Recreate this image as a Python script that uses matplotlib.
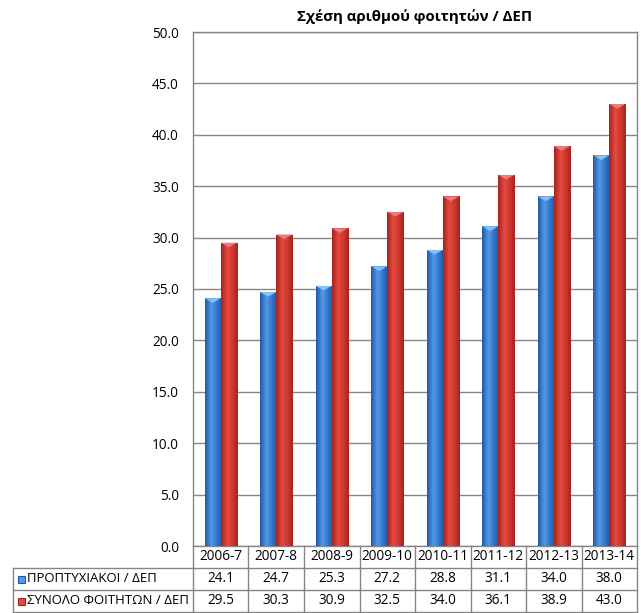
import numpy as np
import matplotlib
matplotlib.use("Agg")
import matplotlib.pyplot as plt
import matplotlib.transforms as mtransforms
from matplotlib.colors import LinearSegmentedColormap
from matplotlib.patches import Polygon, Rectangle

# ---------------------------------------------------------------------------
# Data
# ---------------------------------------------------------------------------
TITLE = "Σχέση αριθμού φοιτητών / ΔΕΠ"
years = ["2006-7", "2007-8", "2008-9", "2009-10",
         "2010-11", "2011-12", "2012-13", "2013-14"]
undergrad = [24.1, 24.7, 25.3, 27.2, 28.8, 31.1, 34.0, 38.0]
total = [29.5, 30.3, 30.9, 32.5, 34.0, 36.1, 38.9, 43.0]
series_names = ["ΠΡΟΠΤΥΧΙΑΚΟΙ / ΔΕΠ", "ΣΥΝΟΛΟ ΦΟΙΤΗΤΩΝ / ΔΕΠ"]
yticks = np.arange(0, 50.1, 5)

plt.rcParams["font.family"] = ["Open Sans", "DejaVu Sans"]

GRID = "#868686"
BLUE = ["#1f5aa8", "#5399e8", "#2f72c6"]   # dark, light, mid
RED = ["#a5241e", "#e54a40", "#c8342c"]
BEVEL = {"blue": "#86c2f5", "red": "#f27a72"}
FS = 9.8

fig = plt.figure(figsize=(6.41, 6.13), dpi=100)
ax = fig.add_axes([193 / 641, 67 / 613, 444 / 641, 514 / 613])

x = np.arange(len(years))
w = 0.29


def shaded_bars(xpos, values, cols, bevel):
    cmap = LinearSegmentedColormap.from_list(
        "g", [(0, cols[0]), (0.38, cols[1]), (0.75, cols[2]), (1, cols[0])])
    grad = np.linspace(0, 1, 64).reshape(1, -1)
    bars = ax.bar(xpos, values, w, color=cols[2], edgecolor="none", zorder=2)
    for b in bars:
        x0, h, bw = b.get_x(), b.get_height(), b.get_width()
        im = ax.imshow(grad, cmap=cmap, aspect="auto",
                       extent=[x0, x0 + bw, 0, h], zorder=3)
        im.set_clip_path(b)
        d = 0.45
        ax.add_patch(Polygon([[x0, h], [x0 + bw, h], [x0 + bw / 2, h - d]],
                             closed=True, color=bevel, zorder=4, lw=0))
    return bars


shaded_bars(x - w / 2, undergrad, BLUE, BEVEL["blue"])
shaded_bars(x + w / 2, total, RED, BEVEL["red"])

ax.set_xlim(-0.5, len(years) - 0.5)
ax.set_ylim(0, 50)
ax.set_yticks(yticks)
ax.set_yticklabels([f"{v:.1f}" for v in yticks], fontsize=FS)
ax.tick_params(axis="y", length=0, pad=10)
ax.set_xticks([])
ax.yaxis.grid(True, color=GRID, linewidth=1)
ax.set_axisbelow(True)
for s in ax.spines.values():
    s.set_color(GRID)
    s.set_linewidth(1)

ax.set_title(TITLE, fontsize=10.8, fontweight="bold", pad=8)

# ---------------------------------------------------------------------------
# Data table under the plot
# ---------------------------------------------------------------------------
rh = 22 / 514
left = -180 / 444
trans = mtransforms.blended_transform_factory(ax.transData, ax.transAxes)
lkw = dict(color=GRID, linewidth=1, clip_on=False)

for i in range(len(years) + 1):
    ax.plot([i - 0.5, i - 0.5], [0, -3 * rh], transform=trans, **lkw)
ax.plot([left, left], [-rh, -3 * rh], transform=ax.transAxes, **lkw)
for k in (1, 2, 3):
    ax.plot([left, 1], [-k * rh, -k * rh], transform=ax.transAxes, **lkw)

for i, yr in enumerate(years):
    ax.text(i, -0.5 * rh, yr, transform=trans, ha="center", va="center",
            fontsize=FS)
    ax.text(i, -1.5 * rh, f"{undergrad[i]:.1f}", transform=trans,
            ha="center", va="center", fontsize=FS)
    ax.text(i, -2.5 * rh, f"{total[i]:.1f}", transform=trans,
            ha="center", va="center", fontsize=FS)

for k, (name, col) in enumerate(zip(series_names, [BLUE, RED])):
    yc = -(k + 1.5) * rh
    kw, kh = 7 / 444, 7 / 514
    ax.add_patch(Rectangle((left + 5 / 444, yc - kh / 2), kw, kh,
                           transform=ax.transAxes, clip_on=False,
                           facecolor=col[1], edgecolor=col[0], lw=0.8))
    ax.text(left + 14 / 444, yc, name, transform=ax.transAxes,
            ha="left", va="center", fontsize=9.5)

fig.savefig("out.png", dpi=100)
